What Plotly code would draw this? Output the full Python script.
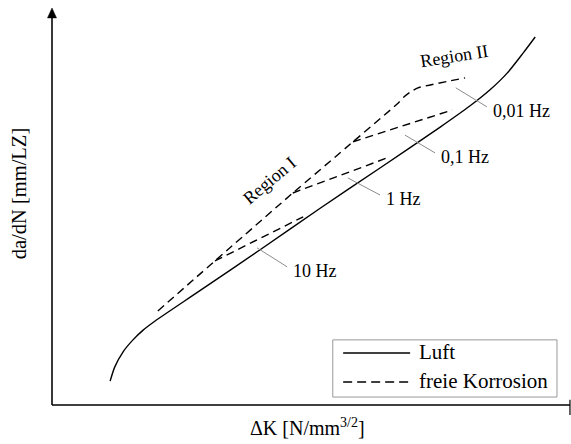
import plotly.graph_objects as go

# Schematic crack-growth curves, da/dN over ΔK (arbitrary log units)
luft_dk = [1.12, 1.21, 1.37, 1.56, 1.75, 1.98, 2.85, 4.01, 5.16, 6.32, 7.48, 8.05, 8.44, 8.77, 9.08, 9.31]
luft_rate = [0.60, 0.96, 1.34, 1.64, 1.88, 2.11, 2.88, 3.91, 4.95, 5.97, 7.00, 7.53, 7.94, 8.36, 8.87, 9.27]

# free corrosion: common Region I path continuing into the 0,01 Hz branch
korr_main_dk = [2.04, 3.14, 4.64, 5.80, 6.65, 6.78, 6.90, 7.05, 7.96]
korr_main_rate = [2.37, 3.63, 5.34, 6.63, 7.58, 7.76, 7.88, 7.99, 8.24]

# branches leaving the Region I path for the higher frequencies
branch_dk = {
    "10 Hz": [3.14, 4.84],
    "1 Hz": [4.64, 6.51],
    "0,1 Hz": [5.80, 7.71],
}
branch_rate = {
    "10 Hz": [3.63, 4.74],
    "1 Hz": [5.34, 6.25],
    "0,1 Hz": [6.63, 7.43],
}

# frequency labels with their leader lines
freq_labels = ["10 Hz", "1 Hz", "0,1 Hz", "0,01 Hz"]
leader_x0 = [3.95, 5.70, 6.80, 7.78]
leader_y0 = [3.96, 5.72, 6.80, 7.99]
leader_x1 = [4.53, 6.32, 7.38, 8.38]
leader_y1 = [3.48, 5.29, 6.35, 7.51]

FONT = "Liberation Serif"
DASH = "8px,5px"

fig = go.Figure()

fig.add_trace(go.Scatter(
    x=luft_dk, y=luft_rate, mode="lines", line=dict(color="black", width=1.4, shape="spline", smoothing=0.8),
    showlegend=False, hoverinfo="skip"))

fig.add_trace(go.Scatter(
    x=korr_main_dk, y=korr_main_rate, mode="lines",
    line=dict(color="black", width=1.4, dash=DASH, shape="spline", smoothing=0.4),
    showlegend=False, hoverinfo="skip"))

for name in branch_dk:
    fig.add_trace(go.Scatter(
        x=branch_dk[name], y=branch_rate[name], mode="lines",
        line=dict(color="black", width=1.4, dash=DASH),
        showlegend=False, hoverinfo="skip"))

shapes = []
annotations = []

# leader lines and frequency labels
for lab, x0, y0, x1, y1 in zip(freq_labels, leader_x0, leader_y0, leader_x1, leader_y1):
    shapes.append(dict(type="line", x0=x0, y0=y0, x1=x1, y1=y1, xref="x", yref="y",
                       line=dict(color="#8c8c8c", width=1)))
    annotations.append(dict(x=x1 + 0.07, y=y1 - 0.1, xref="x", yref="y", text=lab, showarrow=False,
                            xanchor="left", yanchor="middle", font=dict(family=FONT, size=18, color="black")))

# region labels
annotations.append(dict(x=4.20, y=5.67, xref="x", yref="y", text="Region I", showarrow=False,
                        textangle=-40, font=dict(family=FONT, size=18, color="black")))
annotations.append(dict(x=7.75, y=8.79, xref="x", yref="y", text="Region II", showarrow=False,
                        textangle=-9, font=dict(family=FONT, size=18, color="black")))

# axes: y axis with arrow head, x axis with end stroke
shapes.append(dict(type="line", x0=0, y0=0, x1=0, y1=9.80, xref="x", yref="y",
                   line=dict(color="#222", width=1.8)))
shapes.append(dict(type="path", path="M -0.087 9.75 L 0 10.0 L 0.087 9.75 Z", xref="x", yref="y",
                   fillcolor="black", line=dict(color="black", width=0.5)))
shapes.append(dict(type="line", x0=0, y0=0, x1=9.98, y1=0, xref="x", yref="y",
                   line=dict(color="black", width=1.4)))
shapes.append(dict(type="line", x0=9.98, y0=0.13, x1=9.98, y1=-0.25, xref="x", yref="y",
                   line=dict(color="black", width=1.2)))

# axis titles
annotations.append(dict(x=4.93, y=-0.56, xref="x", yref="y", text="ΔK [N/mm<sup>3/2</sup>]",
                        showarrow=False, yanchor="middle", font=dict(family=FONT, size=20, color="black")))
annotations.append(dict(x=-0.63, y=5.34, xref="x", yref="y", text="da/dN [mm/LZ]", textangle=-90,
                        showarrow=False, font=dict(family=FONT, size=20.5, color="black")))

# legend box
shapes.append(dict(type="rect", x0=5.41, y0=0.20, x1=9.73, y1=1.64, xref="x", yref="y",
                   line=dict(color="#999", width=1), fillcolor="white", layer="above"))
shapes.append(dict(type="line", x0=5.61, y0=1.31, x1=6.90, y1=1.31, xref="x", yref="y",
                   line=dict(color="black", width=1.4), layer="above"))
shapes.append(dict(type="line", x0=5.61, y0=0.58, x1=6.90, y1=0.58, xref="x", yref="y",
                   line=dict(color="black", width=1.4, dash="9px,5px"), layer="above"))
annotations.append(dict(x=7.03, y=1.33, xref="x", yref="y", text="Luft", showarrow=False,
                        xanchor="left", font=dict(family=FONT, size=21, color="black")))
annotations.append(dict(x=7.03, y=0.60, xref="x", yref="y", text="freie Korrosion", showarrow=False,
                        xanchor="left", font=dict(family=FONT, size=21, color="black")))

fig.update_layout(
    width=571, height=444, autosize=False,
    margin=dict(l=0, r=0, t=0, b=0),
    paper_bgcolor="white", plot_bgcolor="white",
    xaxis=dict(range=[-1.0019, 10.0], visible=False, fixedrange=True),
    yaxis=dict(range=[-0.9824, 10.2015], visible=False, fixedrange=True),
    shapes=shapes, annotations=annotations,
    showlegend=False,
)

fig.write_html("out.html")
